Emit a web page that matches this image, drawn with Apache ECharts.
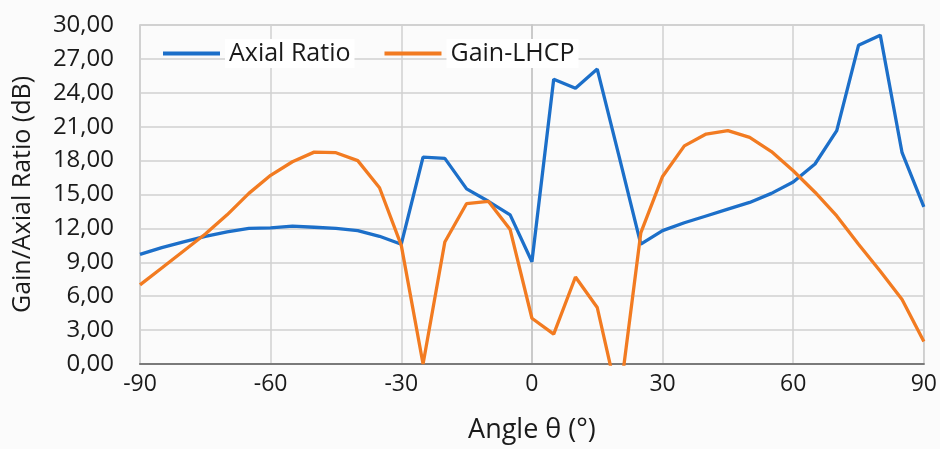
<!DOCTYPE html>
<html>
<head>
<meta charset="utf-8">
<script src="https://cdn.jsdelivr.net/npm/echarts@6/dist/echarts.min.js"></script>
<style>
  html, body { margin: 0; padding: 0; background: #fbfbfb; }
  #main { width: 940px; height: 449px; }
</style>
</head>
<body>
<div id="main"></div>
<script>
var angles = [-90, -85, -80, -75, -70, -65, -60, -55, -50, -45, -40, -35, -30, -25, -20, -15, -10, -5, 0,
              5, 10, 15, 20, 25, 30, 35, 40, 45, 50, 55, 60, 65, 70, 75, 80, 85, 90];
var axialRatio = [9.7, 10.3, 10.8, 11.3, 11.7, 12.0, 12.05, 12.2, 12.1, 12.0, 11.8, 11.3, 10.6,
                  18.3, 18.2, 15.5, 14.4, 13.2, 9.05,
                  25.2, 24.4, 26.1, 18.4, 10.6, 11.8, 12.5, 13.1, 13.7, 14.3, 15.1, 16.1, 17.7, 20.65, 28.2, 29.1, 18.7, 13.9];
var gainLhcp = [7.0, 8.5, 10.0, 11.5, 13.2, 15.1, 16.7, 17.9, 18.75, 18.7, 18.0, 15.6, 10.5,
                0.0, 10.8, 14.2, 14.4, 11.9, 4.05,
                2.65, 7.7, 5.0, -3.5, 11.6, 16.6, 19.3, 20.35, 20.65, 20.05, 18.8, 17.1, 15.2, 13.1, 10.6, 8.2, 5.7, 2.0];
var yTicks = [0, 3, 6, 9, 12, 15, 18, 21, 24, 27, 30];

var fontFam = "'Open Sans', sans-serif";

function pairs(xs, ys) {
  var out = [];
  for (var i = 0; i < xs.length; i++) out.push([xs[i], ys[i]]);
  return out;
}

var myChart = echarts.init(document.getElementById('main'));
myChart.setOption({
  backgroundColor: '#fbfbfb',
  animation: false,
  grid: {
    left: 140, right: 16, top: 25, bottom: 84,
    show: true, borderColor: '#c4c4c4', borderWidth: 1.5
  },
  legend: {
    left: 158, top: 34,
    itemWidth: 57, itemHeight: 4, itemGap: 30,
    icon: 'rect',
    textStyle: {
      fontFamily: fontFam, fontSize: 25, color: '#1a1a1a',
      backgroundColor: '#ffffff', padding: [2, 4, 2, 4]
    },
    data: ['Axial Ratio', 'Gain-LHCP']
  },
  xAxis: {
    type: 'value', min: -90, max: 90, interval: 30,
    name: 'Angle θ (°)', nameLocation: 'middle', nameGap: 53,
    nameTextStyle: { fontFamily: fontFam, fontSize: 27, color: '#1a1a1a' },
    axisLine: { lineStyle: { color: '#7a7a7a', width: 2 } },
    axisTick: { show: false },
    axisLabel: { fontFamily: fontFam, fontSize: 23, color: '#1a1a1a', margin: 9 },
    splitLine: { show: true, lineStyle: { color: '#d0d0d0', width: 1.5 } }
  },
  yAxis: {
    type: 'value', min: yTicks[0], max: yTicks[yTicks.length - 1], interval: 3,
    name: 'Gain/Axial Ratio (dB)', nameLocation: 'middle', nameGap: 105, nameRotate: 90,
    nameTextStyle: { fontFamily: fontFam, fontSize: 25, color: '#1a1a1a' },
    axisLine: { show: true, lineStyle: { color: '#c4c4c4', width: 1.5 } },
    axisTick: { show: false },
    axisLabel: {
      fontFamily: fontFam, fontSize: 24, color: '#1a1a1a', margin: 26,
      formatter: function (v) { return v.toFixed(2).replace('.', ','); }
    },
    splitLine: { show: true, lineStyle: { color: '#d0d0d0', width: 1.5 } }
  },
  series: [
    {
      name: 'Axial Ratio', type: 'line', symbol: 'none', clip: true,
      color: '#1c6fc9',
      lineStyle: { width: 3.3, color: '#1c6fc9' },
      data: pairs(angles, axialRatio)
    },
    {
      name: 'Gain-LHCP', type: 'line', symbol: 'none', clip: true,
      color: '#f27b21',
      lineStyle: { width: 3.3, color: '#f27b21' },
      data: pairs(angles, gainLhcp)
    }
  ]
});
</script>
</body>
</html>
